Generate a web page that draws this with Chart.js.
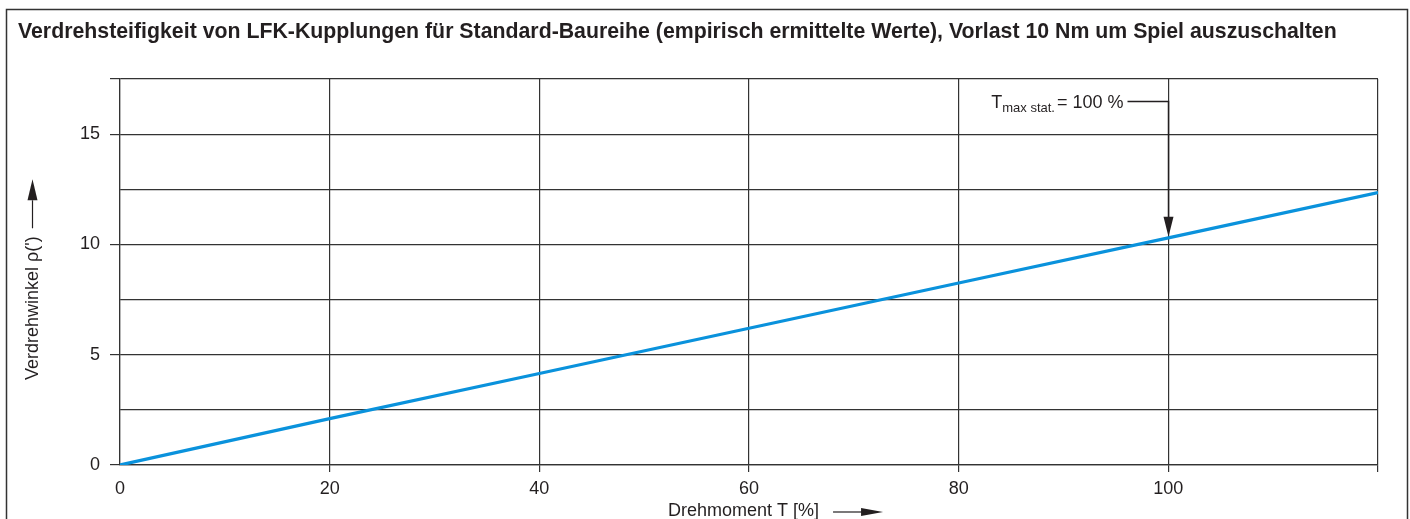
<!DOCTYPE html>
<html>
<head>
<meta charset="utf-8">
<script src="https://cdn.jsdelivr.net/npm/chart.js@4.4.1/dist/chart.umd.min.js"></script>
<style>
html,body{margin:0;padding:0;background:#fff;}
#wrap{width:1410px;height:519px;position:relative;}
</style>
</head>
<body>
<div id="wrap"><canvas id="c" width="1410" height="519"></canvas></div>
<script>
const chartTitle = "Verdrehsteifigkeit von LFK-Kupplungen für Standard-Baureihe (empirisch ermittelte Werte), Vorlast 10 Nm um Spiel auszuschalten";
const xAxisTitle = "Drehmoment T [%]";
const yAxisTitle = "Verdrehwinkel \u03C1(')";
const torquePct = [0, 20, 40, 60, 80, 100, 120];
const twistAngle = [0, 2.1, 4.15, 6.2, 8.25, 10.3, 12.35];
const xTickLabels = [0, 20, 40, 60, 80, 100];
const yTickLabels = [0, 5, 10, 15];
const annotationValue = 100;
const annotationMain = "T";
const annotationSub = "max stat.";
const annotationRest = "= 100 %";

const FONT = "'Liberation Sans', Arial, Helvetica, sans-serif";
const INK = '#231f20';
const GRID = '#333333';

function arrowHead(ctx, x, y, dir, len, half) {
  ctx.beginPath();
  if (dir === 'down') { ctx.moveTo(x, y); ctx.lineTo(x - half, y - len); ctx.lineTo(x + half, y - len); }
  if (dir === 'up') { ctx.moveTo(x, y); ctx.lineTo(x - half, y + len); ctx.lineTo(x + half, y + len); }
  if (dir === 'right') { ctx.moveTo(x, y); ctx.lineTo(x - len, y - half); ctx.lineTo(x - len, y + half); }
  ctx.closePath();
  ctx.fill();
}

const decor = {
  id: 'decor',
  afterDraw(chart) {
    const ctx = chart.ctx;
    const xs = chart.scales.x, ys = chart.scales.y;
    ctx.save();
    // outer frame
    ctx.strokeStyle = '#333';
    ctx.lineWidth = 1.5;
    ctx.beginPath();
    ctx.moveTo(6.5, 530); ctx.lineTo(6.5, 9.5); ctx.lineTo(1407.5, 9.5); ctx.lineTo(1407.5, 530);
    ctx.stroke();
    // title
    ctx.fillStyle = INK;
    ctx.font = "bold 21.3px " + FONT;
    ctx.textBaseline = 'middle';
    ctx.textAlign = 'left';
    ctx.fillText(chartTitle, 18, 32.5);

    // x axis title + arrow
    ctx.font = "18px " + FONT;
    ctx.textAlign = 'left';
    ctx.textBaseline = 'alphabetic';
    ctx.fillText(xAxisTitle, 668, 516);
    const xw = ctx.measureText(xAxisTitle).width;
    const ax0 = 668 + xw + 14;
    ctx.strokeStyle = INK; ctx.lineWidth = 1.2;
    ctx.beginPath(); ctx.moveTo(ax0, 512); ctx.lineTo(ax0 + 30, 512); ctx.stroke();
    arrowHead(ctx, ax0 + 50, 512, 'right', 22, 4);

    // y axis title + arrow
    ctx.save();
    ctx.translate(38, 0);
    ctx.rotate(-Math.PI / 2);
    ctx.textAlign = 'left';
    ctx.textBaseline = 'alphabetic';
    ctx.fillText(yAxisTitle, -380, 0);
    ctx.restore();
    const yw = ctx.measureText(yAxisTitle).width;
    const ay0 = 380 - yw - 8;
    ctx.beginPath(); ctx.moveTo(32.5, ay0); ctx.lineTo(32.5, ay0 - 28); ctx.stroke();
    arrowHead(ctx, 32.5, ay0 - 49, 'up', 21, 5);

    // Tmax annotation
    const px = Math.round(xs.getPixelForValue(annotationValue)) + 0.5;
    const idx = torquePct.indexOf(annotationValue);
    const py = ys.getPixelForValue(twistAngle[idx]);
    const lineY = 101.5;
    ctx.lineWidth = 1.5;
    ctx.strokeStyle = INK;
    ctx.beginPath();
    ctx.moveTo(px - 41, lineY); ctx.lineTo(px, lineY); ctx.lineTo(px, py - 18);
    ctx.stroke();
    arrowHead(ctx, px, py - 1, 'down', 20, 5);
    ctx.textAlign = 'right';
    ctx.textBaseline = 'alphabetic';
    ctx.font = "18px " + FONT;
    let xr = px - 45;
    ctx.fillText(annotationRest, xr, 108);
    xr -= ctx.measureText(annotationRest).width + 2;
    ctx.font = "13px " + FONT;
    ctx.fillText(annotationSub, xr, 112);
    xr -= ctx.measureText(annotationSub).width;
    ctx.font = "18px " + FONT;
    ctx.fillText(annotationMain, xr, 108);
    ctx.restore();
  }
};

new Chart(document.getElementById('c'), {
  type: 'line',
  data: {
    datasets: [{
      data: torquePct.map((t, i) => ({ x: t, y: twistAngle[i] })),
      borderColor: '#0a92dc',
      borderWidth: 3.2,
      pointRadius: 0,
      tension: 0,
      fill: false
    }]
  },
  options: {
    responsive: false,
    animation: false,
    devicePixelRatio: 1,
    layout: { padding: { left: 0, top: 79, right: 32, bottom: 0 } },
    plugins: { legend: { display: false }, tooltip: { enabled: false }, title: { display: false } },
    scales: {
      x: {
        type: 'linear', min: 0, max: 120,
        afterFit(s) { s.height = 54; },
        afterBuildTicks(s) { s.ticks = torquePct.map(v => ({ value: v })); },
        border: { display: true, color: GRID, width: 1.2 },
        grid: {
          color: GRID, lineWidth: 1.2, drawTicks: true, tickLength: 7,
          tickColor: ctx => (ctx.tick && ctx.tick.value === 0) ? 'rgba(0,0,0,0)' : GRID
        },
        ticks: {
          padding: 6, color: INK, font: { family: FONT, size: 18 }, maxRotation: 0, autoSkip: false,
          callback: v => xTickLabels.includes(v) ? String(v) : ''
        }
      },
      y: {
        type: 'linear', min: 0, max: 17.5,
        afterFit(s) { s.width = 120; },
        afterBuildTicks(s) { s.ticks = [0, 2.5, 5, 7.5, 10, 12.5, 15, 17.5].map(v => ({ value: v })); },
        border: { display: true, color: GRID, width: 1.2 },
        grid: {
          color: GRID, lineWidth: 1.2, drawTicks: true, tickLength: 10,
          tickColor: ctx => (ctx.tick && (ctx.tick.value % 5 === 0 || ctx.tick.value === 17.5)) ? GRID : 'rgba(0,0,0,0)'
        },
        ticks: {
          padding: 10, color: INK, font: { family: FONT, size: 18 }, autoSkip: false,
          callback: v => yTickLabels.includes(v) ? String(v) : ''
        }
      }
    }
  },
  plugins: [decor]
});
</script>
</body>
</html>
